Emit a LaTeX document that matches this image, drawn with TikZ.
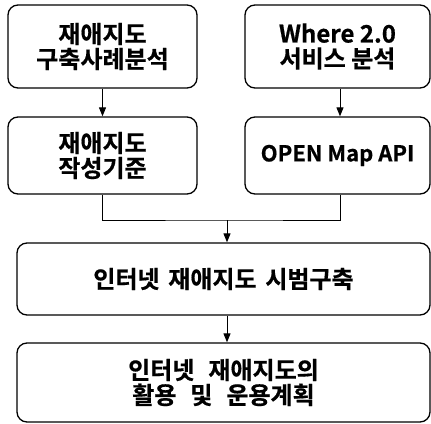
\documentclass[tikz,border=0pt]{standalone}
\usepackage{fontspec}
\setmainfont{Noto Sans CJK KR Bold}[FakeBold=0.6]
\newfontfamily\widefont{Noto Sans CJK KR Bold}[FakeBold=0.6, WordSpace=2.6]
\newfontfamily\midfont{Noto Sans CJK KR Bold}[FakeBold=0.6, WordSpace=1.6]
\usetikzlibrary{arrows.meta}
\begin{document}
\begin{tikzpicture}[x=1pt,y=1pt,
  box/.style={draw, line width=1.3pt, rounded corners=10pt, align=center, inner sep=0pt,
    font=\fontsize{24}{25}\selectfont},
  conn/.style={line width=1pt, -{Triangle[length=9pt,width=7pt]}}]
\useasboundingbox (0,0) rectangle (431,-423);
\node[box, minimum width=189pt, minimum height=83pt] (A) at (102.5,-46.5) {재애지도\\구축사례분석};
\node[box, minimum width=185pt, minimum height=83pt] (B) at (337.5,-46.5) {Where 2.0\\서비스 분석};
\node[box, minimum width=189pt, minimum height=77pt] (C) at (102.5,-155.5) {재애지도\\작성기준};
\node[box, minimum width=185pt, minimum height=77pt, font=\fontsize{22}{25}\selectfont] (D) at (337.5,-155.5) {OPEN Map API};
\node[box, minimum width=413pt, minimum height=72pt, font=\fontsize{24}{25}\widefont] (E) at (223.5,-279) {인터넷 재애지도 시범구축};
\node[box, minimum width=413pt, minimum height=79pt, font=\fontsize{24}{25}\midfont] (F) at (223.5,-382.5) {인터넷 재애지도의\\활용 및 운용계획};
\coordinate (j) at (227,-220);
\draw[conn] (A) -- (C);
\draw[conn] (B.south -| 340,0) -- (D.north -| 340,0);
\draw[line width=1pt] (C.south) |- (j) -| (D.south -| 340,0);
\draw[conn] (j) -- (E.north -| j);
\draw[conn] (E.south -| j) -- (F.north -| j);
\end{tikzpicture}
\end{document}
